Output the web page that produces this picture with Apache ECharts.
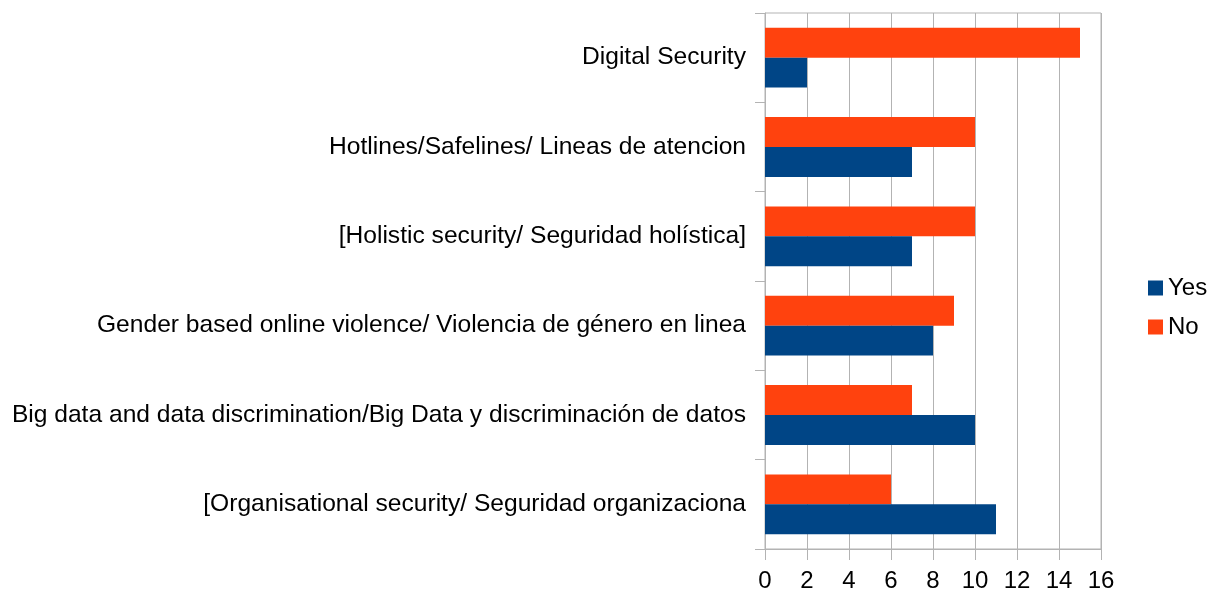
<!DOCTYPE html>
<html>
<head>
<meta charset="utf-8">
<script src="https://cdn.jsdelivr.net/npm/echarts@6/dist/echarts.min.js"></script>
<style>
html,body{margin:0;padding:0;background:#fff;}
#chart{width:1209px;height:593px;}
</style>
</head>
<body>
<div id="chart"></div>
<script>
const categories = [
  "Digital Security",
  "Hotlines/Safelines/ Lineas de atencion",
  "[Holistic security/ Seguridad holística]",
  "Gender based online violence/ Violencia de género en linea",
  "Big data and data discrimination/Big Data y discriminación de datos",
  "[Organisational security/ Seguridad organizaciona"
];
const yesValues = [2, 7, 7, 8, 10, 11];
const noValues = [15, 10, 10, 9, 7, 6];
const xTicks = [0, 2, 4, 6, 8, 10, 12, 14, 16];

const chart = echarts.init(document.getElementById('chart'), null, {renderer: 'canvas'});
const font = '"Liberation Sans", Arial, sans-serif';
chart.setOption({
  animation: false,
  textStyle: {fontFamily: font},
  grid: {left: 765, right: 108, top: 13, bottom: 44, show: true, borderColor: '#b3b3b3', borderWidth: 1, containLabel: false},
  legend: {
    orient: 'vertical',
    left: 1143, top: 271,
    itemWidth: 15, itemHeight: 15, itemGap: 15,
    icon: 'rect',
    textStyle: {fontSize: 24, color: '#000', fontFamily: font},
    data: ['Yes', 'No']
  },
  xAxis: {
    type: 'value',
    min: xTicks[0], max: xTicks[xTicks.length - 1], interval: 2,
    axisLine: {show: true, lineStyle: {color: '#b3b3b3'}},
    axisTick: {show: true, length: 11, lineStyle: {color: '#b3b3b3'}},
    splitLine: {show: true, lineStyle: {color: '#b3b3b3'}},
    axisLabel: {fontSize: 24, color: '#000', margin: 20, fontFamily: font}
  },
  yAxis: {
    type: 'category',
    inverse: true,
    data: categories,
    axisLine: {show: true, lineStyle: {color: '#b3b3b3'}},
    axisTick: {show: true, length: 10, lineStyle: {color: '#b3b3b3'}},
    axisLabel: {fontSize: 24.6, color: '#000', margin: 19, fontFamily: font}
  },
  series: [
    {name: 'No', type: 'bar', data: noValues, itemStyle: {color: '#ff420e'}, barGap: '0%', barCategoryGap: '33%'},
    {name: 'Yes', type: 'bar', data: yesValues, itemStyle: {color: '#004586'}, barGap: '0%', barCategoryGap: '33%'}
  ]
});
</script>
</body>
</html>
